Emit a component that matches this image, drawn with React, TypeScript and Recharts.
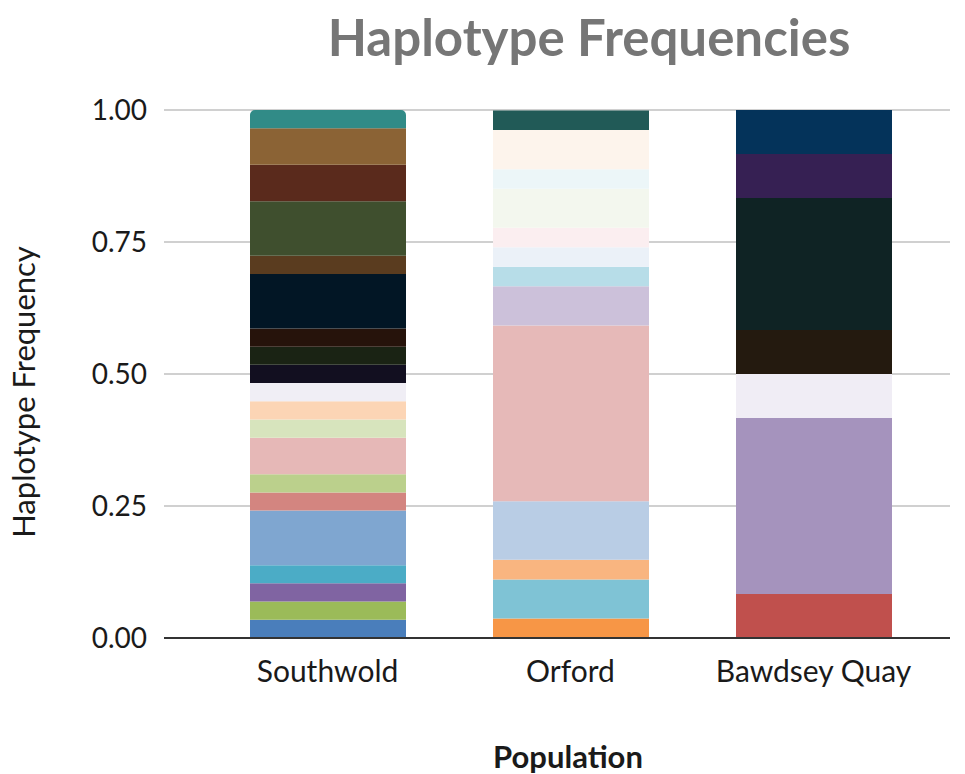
import React from 'react';
import { BarChart, Bar, XAxis, YAxis, CartesianGrid, Cell } from 'recharts';

const populations = ['Southwold', 'Orford', 'Bawdsey Quay'];

// Haplotype frequencies per population, bottom to top of each stack
const southwoldFreq = [0.0345, 0.0345, 0.0345, 0.0345, 0.1033, 0.0345, 0.0345, 0.069, 0.0345, 0.0345, 0.0345, 0.0345, 0.0345, 0.0345, 0.1033, 0.0345, 0.1033, 0.069, 0.069, 0.0345];
const orfordFreq = [0.037, 0.074, 0.037, 0.111, 0.333, 0.074, 0.037, 0.037, 0.037, 0.074, 0.037, 0.074, 0.037];
const bawdseyFreq = [0.0833, 0.3333, 0.0833, 0.0833, 0.25, 0.0833, 0.0833];

const southwoldColors = ['#4a7ebb', '#9bbb59', '#8064a2', '#4bacc6', '#7fa6d0', '#d38580', '#bbd08c', '#e6b8b7', '#d7e4bd', '#fcd5b5', '#f0eef5', '#120f20', '#1a2314', '#26130b', '#021625', '#5a3c1f', '#3f4f2e', '#5a2a1c', '#8b6335', '#318b87'];
const orfordColors = ['#f79646', '#7fc3d5', '#f9b580', '#b9cde5', '#e6b9b8', '#ccc1da', '#b7dde8', '#ebf1f8', '#fbeef0', '#f3f7ee', '#ecf6f8', '#fdf4ec', '#215a57'];
const bawdseyColors = ['#c0504d', '#a593bd', '#f0edf5', '#241a0f', '#0f2324', '#362053', '#04335a'];

const yTicks = [0, 0.25, 0.5, 0.75, 1];

const freqs = [southwoldFreq, orfordFreq, bawdseyFreq];
const colors = [southwoldColors, orfordColors, bawdseyColors];
const maxSeg = Math.max(...freqs.map((f) => f.length));
const segKeys = Array.from({ length: maxSeg }, (_, i) => `h${i}`);

const data = populations.map((pop, p) => {
  const row: Record<string, any> = { pop };
  freqs[p].forEach((v, i) => {
    row[`h${i}`] = v;
  });
  return row;
});

const FONT = 'Lato, "Open Sans", sans-serif';

export default function App() {
  return (
    <div style={{ position: 'absolute', left: 0, top: 0, background: '#fff' }}>
      <BarChart
        width={965}
        height={774}
        data={data}
        margin={{ top: 110, right: 15, left: 0, bottom: 76 }}
        style={{ fontFamily: FONT }}
      >
        <CartesianGrid vertical={false} stroke="#d0d0d0" strokeWidth={2} />
        <XAxis
          dataKey="pop"
          height={60}
          padding={{ left: 42, right: 15 }}
          tickLine={false}
          axisLine={{ stroke: '#333', strokeWidth: 2 }}
          tick={{ fontSize: 30, fill: '#1a1a1a', fontFamily: FONT }}
          tickMargin={17}
        />
        <YAxis
          width={164}
          domain={[0, 1]}
          ticks={yTicks}
          tickFormatter={(v: number) => v.toFixed(2)}
          axisLine={false}
          tickLine={false}
          tickMargin={11}
          tick={{ fontSize: 28, fill: '#1a1a1a', fontFamily: FONT }}
        />
        {segKeys.map((key, i) => (
          <Bar key={key} dataKey={key} stackId="a" barSize={156} isAnimationActive={false}>
            {populations.map((pop, p) => (
              <Cell
                key={pop}
                fill={colors[p][i] || '#ffffff'}
                radius={p === 0 && i === freqs[0].length - 1 ? ([5, 5, 0, 0] as any) : (0 as any)}
              />
            ))}
          </Bar>
        ))}
        <text x={589} y={56} textAnchor="middle" fontSize={51} fontWeight="bold" fill="#767676" fontFamily={FONT}>
          Haplotype Frequencies
        </text>
        <text
          x={35}
          y={392}
          textAnchor="middle"
          fontSize={31}
          fill="#1a1a1a"
          fontFamily={FONT}
          transform="rotate(-90 35 392)"
        >
          Haplotype Frequency
        </text>
        <text x={568} y={768} textAnchor="middle" fontSize={31} fontWeight="bold" fill="#1a1a1a" fontFamily={FONT}>
          Population
        </text>
      </BarChart>
    </div>
  );
}
